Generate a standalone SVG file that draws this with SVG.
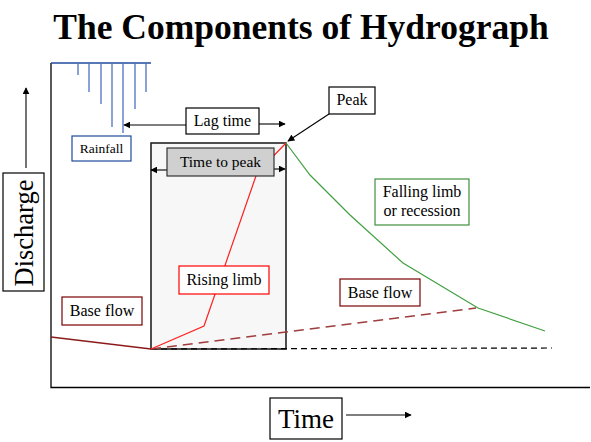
<svg xmlns="http://www.w3.org/2000/svg" width="591" height="442" viewBox="0 0 591 442">
<defs>
<marker id="ah" viewBox="0 0 10 10" refX="9" refY="5" markerWidth="7" markerHeight="7" orient="auto" markerUnits="userSpaceOnUse"><path d="M0,0 L10,5 L0,10 z" fill="#000"/></marker>
</defs>
<style>
text{font-family:"Liberation Serif","Times New Roman",serif;fill:#000}
.lbl{font-size:16px;text-anchor:middle}
.box{fill:#fff;stroke-width:1.2}
.arr{stroke:#000;stroke-width:1.1;fill:none;marker-end:url(#ah)}
.rain{stroke:#4a72c0;stroke-width:1.3}
</style>
<rect width="591" height="442" fill="#fff"/>
<text x="301" y="39" font-size="35.5" font-weight="bold" text-anchor="middle">The Components of Hydrograph</text>

<g id="axes" stroke="#000" stroke-width="1.3" fill="none">
<path d="M51,63 V387.5 H590"/>
</g>

<g id="rain">
<path d="M51,63 H151" stroke="#1f4a9c" stroke-width="1.4"/>
<line class="rain" x1="78" y1="63" x2="78" y2="75"/>
<line class="rain" x1="89" y1="63" x2="89" y2="92"/>
<line class="rain" x1="101" y1="63" x2="101" y2="104"/>
<line class="rain" x1="112" y1="63" x2="112" y2="127"/>
<line class="rain" x1="123" y1="63" x2="123" y2="133"/>
<line class="rain" x1="135" y1="63" x2="135" y2="109"/>
<line class="rain" x1="146" y1="63" x2="146" y2="92"/>
</g>

<g id="period">
<rect x="151" y="143" width="135" height="206" fill="#f7f7f7" stroke="#222" stroke-width="1.6"/>
</g>

<g id="connectors">
<path d="M51,337 L151,349" stroke="#8b1a1a" stroke-width="1.3" fill="none"/>
<path d="M151,349 L552,348" stroke="#000" stroke-width="1.2" stroke-dasharray="6,4" fill="none"/>
<path d="M151,349 L476,308" stroke="#a03c3c" stroke-width="1.6" stroke-dasharray="10,6" fill="none"/>
<path d="M151,349 L204,326 L257,173 L286,143" stroke="#ff2020" stroke-width="1.2" fill="none"/>
<path d="M286,143 L310,175 L350,215 L403,263 L478,308 L545,331" stroke="#40a040" stroke-width="1.2" fill="none"/>
<line class="arr" x1="186" y1="125" x2="124" y2="125"/>
<line class="arr" x1="259" y1="124" x2="285" y2="124"/>
<line class="arr" x1="329" y1="114" x2="288" y2="141"/>
<line class="arr" x1="167" y1="170" x2="151" y2="170"/>
<line class="arr" x1="274" y1="169" x2="285" y2="169"/>
<line class="arr" x1="26" y1="168" x2="26" y2="88"/>
<line class="arr" x1="346" y1="415" x2="411" y2="415"/>
</g>

<g id="rainfall">
<rect class="box" x="72" y="136" width="59" height="25" stroke="#1f4a9c"/>
<text x="101.5" y="153" font-size="13.5" text-anchor="middle">Rainfall</text>
</g>
<g id="lagtime">
<rect class="box" x="186" y="108" width="73" height="26" stroke="#000"/>
<text class="lbl" x="222.5" y="126">Lag time</text>
</g>
<g id="peak">
<rect class="box" x="329" y="87" width="46" height="27" stroke="#000"/>
<text class="lbl" x="352" y="105" font-size="15.5">Peak</text>
</g>
<g id="timetopeak">
<rect x="167" y="148" width="107" height="28" fill="#d0d0d0" stroke="#333" stroke-width="1.2"/>
<text class="lbl" x="220.5" y="167" style="font-size:15.5px">Time to peak</text>
</g>
<g id="risinglimb">
<rect class="box" x="179" y="266" width="90" height="28" stroke="#ff0000"/>
<text class="lbl" x="224" y="285">Rising limb</text>
</g>
<g id="fallinglimb">
<rect class="box" x="375" y="179" width="94" height="46" stroke="#40903c"/>
<text class="lbl" x="422" y="197">Falling limb</text>
<text class="lbl" x="422" y="216">or recession</text>
</g>
<g id="baseflow-right">
<rect class="box" x="340" y="279" width="80" height="27" stroke="#7a0000"/>
<text class="lbl" x="380" y="298">Base flow</text>
</g>
<g id="baseflow-left">
<rect class="box" x="62" y="297" width="80" height="28" stroke="#7a0000"/>
<text class="lbl" x="102" y="316">Base flow</text>
</g>
<g id="discharge">
<rect class="box" x="3" y="173" width="41" height="118" stroke="#000"/>
<text x="0" y="0" font-size="26.5" text-anchor="middle" transform="translate(33,233) rotate(-90)">Discharge</text>
</g>
<g id="time">
<rect class="box" x="270" y="398" width="72" height="41" stroke="#000"/>
<text x="306" y="428" font-size="27" text-anchor="middle">Time</text>
</g>
</svg>
